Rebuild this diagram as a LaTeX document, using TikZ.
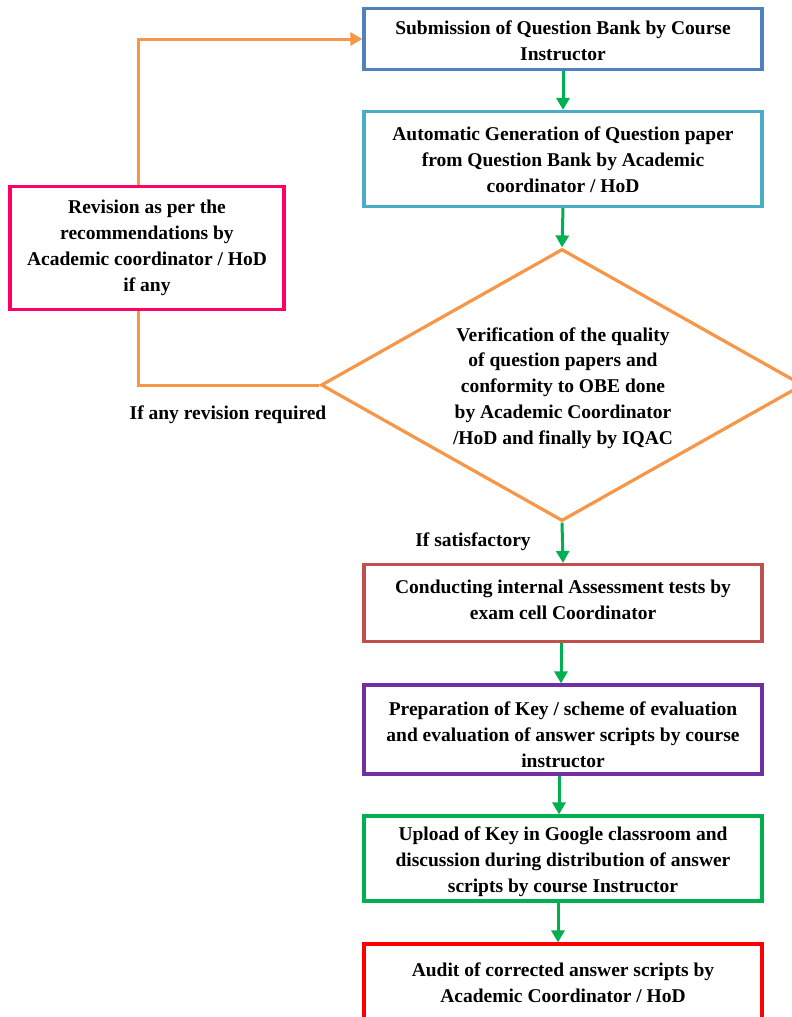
\documentclass[tikz,border=0pt]{standalone}
\usepackage{fontspec}
\setmainfont{Liberation Serif}
\usetikzlibrary{arrows.meta,shapes.geometric}
\definecolor{cblue}{HTML}{4F81BD}
\definecolor{caqua}{HTML}{4BACC6}
\definecolor{cpink}{HTML}{FF0066}
\definecolor{corange}{HTML}{F79646}
\definecolor{cbrick}{HTML}{C0504D}
\definecolor{cpurple}{HTML}{7030A0}
\definecolor{cgreen}{HTML}{00B050}
\definecolor{cred}{HTML}{FF0000}
\begin{document}
\begin{tikzpicture}[x=1pt,y=-1pt,
  txt/.style={font=\fontsize{19.5}{25.8}\selectfont\bfseries, align=center, inner sep=0pt},
  box/.style={draw, line width=3.2pt, fill=white, minimum width=398pt, inner sep=0pt},
  garrow/.style={draw=cgreen, line width=3pt, -{Triangle[length=12pt,width=13pt]}},
  oline/.style={draw=corange, line width=3pt},
  oarrow/.style={draw=corange, line width=3pt, -{Triangle[length=12pt,width=13pt]}}]
\useasboundingbox[fill=white] (0,0) rectangle (792,1017);

\node[box, draw=cblue, minimum height=61pt] (sub) at (563,39) {};
\node[txt] at (563,41) {Submission of Question Bank by Course\\Instructor};

\node[box, draw=caqua, minimum height=95pt] (auto) at (563,159) {};
\node[txt] at (563,160) {Automatic Generation of Question paper\\from Question Bank by Academic\\coordinator / HoD};

\node[box, draw=cpink, minimum width=274pt, minimum height=123pt] (rev) at (147,248) {};
\node[txt] at (147,248) {Revision as per the\\recommendations by\\Academic coordinator / HoD\\if any};

\node[draw=corange, line width=3.2pt, fill=white, diamond, minimum width=482pt, minimum height=272pt, inner sep=0pt] (dia) at (562,385) {};
\node[txt] at (563,388) {Verification of the quality\\of question papers and\\conformity to OBE done\\by Academic Coordinator\\/HoD and finally by IQAC};

\node[box, draw=cbrick, minimum height=77pt] (cond) at (563,603) {};
\node[txt] at (563,600) {Conducting internal Assessment tests by\\exam cell Coordinator};

\node[box, draw=cpurple, minimum height=89pt] (prep) at (563,729.5) {};
\node[txt] at (563,735) {Preparation of Key / scheme of evaluation\\and evaluation of answer scripts by course\\instructor};

\node[box, draw=cgreen, minimum height=85pt] (upl) at (563,858.5) {};
\node[txt] at (563,862) {Upload of Key in Google classroom and\\discussion during distribution of answer\\scripts by course Instructor};

\node[box, draw=cred, minimum height=76pt] (aud) at (563,982) {};
\node[txt] at (563,983) {Audit of corrected answer scripts by\\Academic Coordinator / HoD};

\node[txt] (lrev) at (228,415) {If any revision required};
\node[txt] (lsat) at (473,542) {If satisfactory};

\draw[garrow] (sub.south) -- (auto.north);
\draw[garrow] (auto.south) -- (dia.north);
\draw[garrow] (dia.south) -- (cond.north);
\draw[garrow] ([xshift=-2pt]cond.south) -- ([xshift=-2pt]prep.north);
\draw[garrow] ([xshift=-4pt]prep.south) -- ([xshift=-4pt]upl.north);
\draw[garrow] ([xshift=-5pt]upl.south) -- ([xshift=-5pt]aud.north);

\draw[oline] (dia.west) -| ([xshift=-9pt]rev.south);
\draw[oarrow] ([xshift=-9pt]rev.north) |- (sub.west);
\end{tikzpicture}
\end{document}
